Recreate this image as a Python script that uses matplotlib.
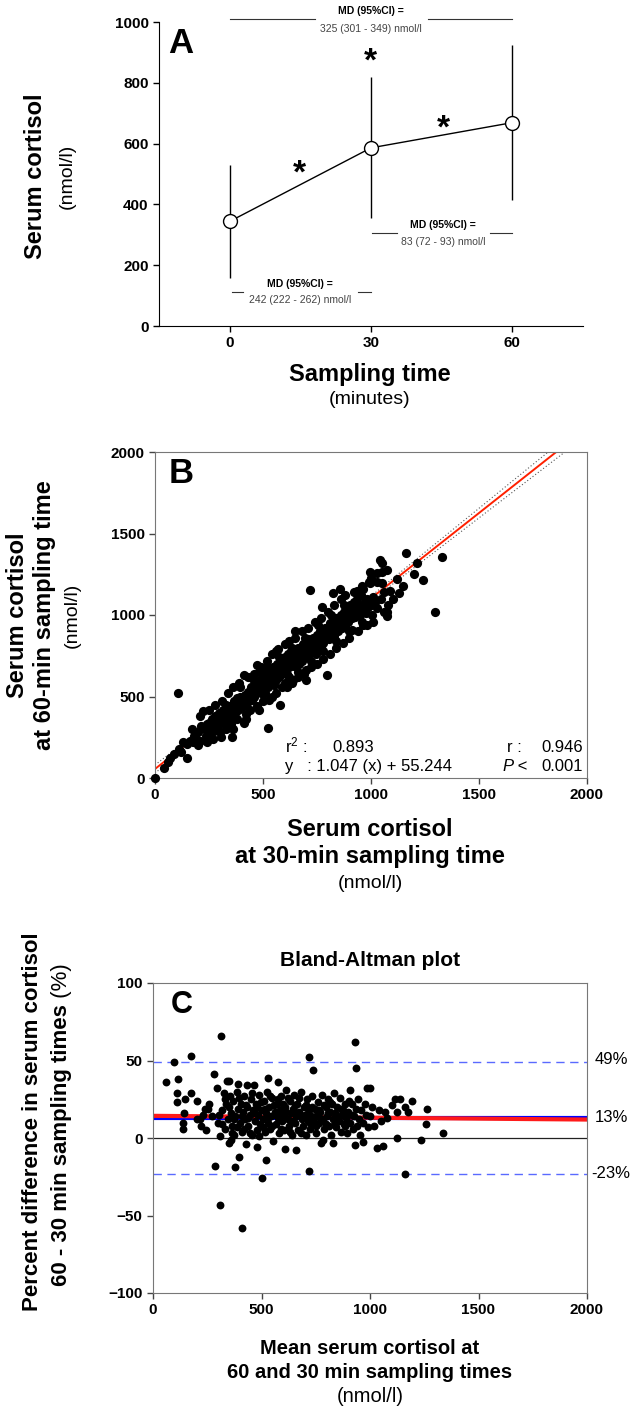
import matplotlib
matplotlib.use('Agg')
import matplotlib.pyplot as plt
import numpy as np

plt.rcParams['font.family'] = ['Liberation Sans', 'DejaVu Sans']
plt.rcParams['mathtext.fontset'] = 'custom'
plt.rcParams['mathtext.rm'] = 'Liberation Sans'
plt.rcParams['mathtext.it'] = 'Liberation Sans:italic'
plt.rcParams['mathtext.bf'] = 'Liberation Sans:bold'

# ---------------- data ----------------
# Panel A
times = [0, 30, 60]
time_labels = ['0', '30', '60']
cortisol_mean = [344, 586, 669]
cortisol_sd = [185, 232, 255]
md_texts = ["325 (301 - 349) nmol/l", "83 (72 - 93) nmol/l", "242 (222 - 262) nmol/l"]

# Panel B (30-min value, 60-min value)
panel_b_points = [
    (0, 0), (40, 60), (60, 100), (70, 120), (90, 150), (105, 520), (110, 175), (120, 160), (130, 220),
    (150, 210), (160, 230), (175, 220), (180, 260), (190, 240), (200, 280),
    (210, 230), (215, 320), (222, 411), (230, 300), (235, 260), (240, 330), (245, 290), (250, 340),
    (255, 252), (260, 310), (265, 360), (270, 330), (275, 290), (280, 380), (285, 340), (290, 320),
    (295, 400), (300, 350),
    (305, 252), (310, 380), (315, 420), (320, 340), (325, 400), (330, 450), (335, 370), (340, 410),
    (345, 440), (350, 380), (355, 252), (360, 430), (365, 470), (370, 400), (375, 450), (380, 490),
    (385, 420), (390, 460), (395, 500), (400, 430),
    (405, 480), (410, 337), (412, 632), (415, 510), (420, 450), (425, 490), (430, 530), (435, 470),
    (440, 520), (445, 560), (450, 480), (455, 540), (460, 500), (465, 580), (470, 693), (475, 530),
    (480, 560), (485, 600), (490, 520), (495, 570), (500, 610), (500, 540),
    (505, 580), (510, 520), (515, 640), (520, 600), (523, 307), (525, 560), (530, 650), (535, 590),
    (540, 620), (545, 680), (550, 570), (555, 640), (560, 600), (565, 700), (570, 650), (575, 620),
    (579, 448), (580, 680), (585, 720), (590, 640), (595, 690), (600, 660), (600, 740),
    (605, 700), (610, 640), (615, 760), (620, 680), (625, 720), (630, 780), (634, 583), (635, 700),
    (640, 740), (645, 690), (650, 760), (655, 720), (660, 800), (665, 700), (670, 750), (675, 780),
    (680, 720), (685, 820), (690, 638), (690, 760), (695, 800), (700, 740),
    (705, 790), (710, 850), (715, 760), (718, 1153), (720, 820), (725, 780), (730, 860), (735, 800),
    (740, 840), (745, 760), (750, 880), (755, 820), (760, 850), (765, 900), (770, 800), (773, 1049),
    (775, 860), (780, 830), (785, 920), (790, 870), (796, 632), (800, 900),
    (805, 850), (810, 950), (815, 880), (820, 920), (824, 1135), (825, 960), (830, 870), (835, 930),
    (840, 980), (845, 900), (850, 950), (857, 1159), (860, 1000), (865, 920), (870, 970), (875, 1020),
    (880, 940), (885, 990), (890, 1040), (895, 960), (900, 1010),
    (905, 1060), (910, 980), (912, 908), (915, 1030), (920, 1080), (925, 990), (930, 1050), (935, 1100),
    (940, 1010), (945, 1060), (950, 1000), (955, 1120), (960, 1040), (963, 939), (963, 1159), (970, 1080),
    (975, 1010), (980, 1100), (985, 1050), (990, 1200), (995, 1264), (995, 1196), (1000, 1060),
    (1005, 1000), (1010, 1110), (1020, 1080), (1028, 1202), (1030, 1040), (1042, 1337), (1045, 1100),
    (1051, 1319), (1051, 1264), (1051, 1196), (1060, 1140), (1074, 1276), (1074, 1018), (1074, 994),
    (1080, 1060), (1090, 1150),
    (1120, 1220), (1130, 1135), (1150, 1180), (1162, 1380), (1200, 1250), (1213, 1319), (1241, 1215),
    (1296, 1018), (1329, 1356),
    (150, 120), (170, 300), (200, 200), (210, 380), (240, 220), (250, 420), (270, 240), (280, 450),
    (300, 280), (310, 470), (330, 300), (340, 520), (350, 330), (360, 560), (380, 360), (390, 580),
    (420, 390), (430, 620), (440, 420), (460, 640), (470, 440), (490, 680), (500, 470), (520, 720),
    (530, 480), (540, 760), (560, 520), (570, 790), (590, 560), (600, 820), (610, 560), (620, 840),
    (640, 600), (650, 860), (660, 620), (680, 900), (700, 660), (710, 920), (720, 680), (740, 960),
    (750, 700), (770, 980), (780, 730), (800, 1020), (810, 760), (830, 1060), (840, 800), (860, 1100),
    (870, 830), (880, 1120), (900, 860), (920, 1140), (940, 900), (960, 1180), (980, 940), (1000, 1230),
    (1010, 960), (1030, 1260), (1060, 1020), (1100, 1100), (650, 900), (560, 780), (480, 650),
    (620, 620), (700, 600), (395, 560), (455, 610), (515, 680), (575, 740), (635, 800), (695, 860),
    (755, 940), (815, 1000), (875, 1060), (935, 1150), (360, 300), (420, 360), (480, 420), (540, 500),
    (600, 580), (660, 650), (720, 720), (780, 780), (840, 840), (900, 900), (960, 960),
]
reg_slope = 1.047
reg_intercept = 55.244
ci_x = [0, 650, 2000]
ci_upper = [80, 738, 2194]
ci_lower = [30, 732, 2104]

# Panel C (mean of 60 and 30 min, percent difference)
panel_c_points = [
    (60, 36), (97, 49), (110, 29), (110, 23), (115, 38), (138, 6), (138, 10), (143, 16), (147, 25),
    (175, 53), (175, 29), (203, 24), (203, 12), (217, 12), (240, 19), (253, 19),
    (220, 8), (230, 15), (245, 5), (260, 22), (270, 14), (281, 41), (286, -18), (295, 32), (300, 10),
    (309, 1), (309, -43), (313, 66), (320, 18), (327, 29), (330, 6), (335, 22), (341, 37), (345, 12),
    (350, 37), (350, -3),
    (355, 27), (359, -1), (360, 16), (365, 8), (370, 24), (375, 2), (378, -19), (380, 14), (385, 30),
    (390, 19), (392, 35), (396, -12), (400, 10), (405, 22), (410, -58), (410, 4), (415, 17), (420, 27),
    (425, 12), (430, -4), (433, 34), (435, 20), (440, 8), (445, 15), (450, 25), (455, 2), (460, 18),
    (465, 34), (470, 11), (475, 22), (479, -6), (480, 5), (485, 15), (490, 28), (495, 9), (500, 18),
    (502, -26), (505, 12), (510, 24), (515, 4), (520, 16), (521, -14), (525, 30), (530, 39), (530, 10),
    (535, 20), (540, 6), (545, 14), (550, 26), (555, -2), (560, 17), (565, 9), (570, 22), (576, 36),
    (575, 13), (580, 3), (585, 18), (590, 27), (595, 11), (600, 15), (605, 5), (608, -7), (610, 20),
    (615, 31), (620, 12), (625, 8), (630, 24), (635, 16), (640, 2), (645, 19), (650, 28), (655, 10),
    (659, -8), (660, 14), (665, 22), (670, 5), (675, 17), (680, 30), (685, 12), (690, 8), (695, 20),
    (700, 15), (705, 2), (710, 25), (715, 11), (719, 52), (719, -21), (720, 18), (725, 6), (730, 14),
    (737, 44), (735, 27), (740, 9), (745, 19), (750, 3), (755, 15), (760, 23), (765, 10), (770, 17),
    (775, -3), (780, 28), (783, -1), (785, 12), (790, 6), (795, 20), (800, 14), (805, 25), (810, 8),
    (815, 17), (820, 2), (825, 22), (829, -3), (830, 12), (835, 29), (840, 16), (845, 7), (850, 20),
    (855, 11), (860, 26), (865, 4), (870, 15), (875, 18), (880, 9), (885, 22), (890, 13), (895, 3),
    (900, 17), (908, 31), (910, 10), (915, 22), (920, 6), (925, 14), (931, 62), (931, -4.5), (935, 45),
    (935, 19), (940, 8), (945, 25), (950, 12), (955, 2), (960, 18), (968, -2.6), (970, 10), (975, 22),
    (980, 15), (986, 32), (990, 7), (1000, 32), (1000, 14), (1010, 20), (1020, 8), (1032, -6.5),
    (1040, 18), (1050, 11), (1060, -5), (1069, 17), (1080, 13), (1100, 21), (1115, 25), (1124, 17),
    (1124, 0), (1138, 25), (1161, 20), (1161, -23), (1175, 17), (1193, 24), (1235, -1), (1258, 9),
    (1263, 19), (1336, 3),
    (305, 15), (318, 9), (332, 25), (348, 20), (362, 3), (372, 12), (388, 7), (398, 26), (408, 14),
    (418, 6), (428, 21), (438, 13), (448, 3), (458, 29), (468, 16), (478, 20), (488, 1), (498, 23),
    (508, 7), (518, 19), (528, 13), (538, 27), (548, 8), (558, 21), (568, 15), (578, 25), (588, 6),
    (598, 22), (603, 13), (613, 17), (623, 26), (633, 4), (643, 11), (653, 21), (663, 16), (673, 26),
    (683, 3), (693, 14), (703, 21), (713, 16), (723, 10), (733, 20), (743, 13), (753, 8), (763, 18),
    (773, 12), (787, 21), (797, 9), (807, 16), (817, 23), (837, 10), (847, 14), (867, 19), (887, 8),
    (902, 24), (918, 15),
]
ba_mean_bias = 13
ba_upper_loa = 49
ba_lower_loa = -23
ba_trend_x = [0, 2000]
ba_trend_y = [14.3, 11.9]
ba_labels = ['49%', '13%', '-23%']

# ---------------- layout helpers ----------------
W, H = 638, 1407
fig = plt.figure(figsize=(W / 100, H / 100), dpi=100)


def fx(px):
    return px / W


def fy(py):
    return 1 - py / H


def rect(l, t, r, b):
    return [l / W, 1 - b / H, (r - l) / W, (b - t) / H]


def bold_ticks(ax):
    for lbl in ax.get_xticklabels() + ax.get_yticklabels():
        lbl.set_fontweight('bold')
        lbl.set_fontsize(11)


# ---------------- Panel A ----------------
axA = fig.add_axes(rect(159, 22, 583, 326))
axA.errorbar(times, cortisol_mean, yerr=cortisol_sd, fmt='-o', color='black', lw=1,
             elinewidth=1, capsize=0, mfc='white', mec='black', ms=10, mew=1, zorder=3)
axA.set_xlim(-15, 75)
axA.set_ylim(0, 1000)
axA.spines['top'].set_visible(False)
axA.spines['right'].set_visible(False)
axA.set_xticks(times)
axA.set_xticklabels(time_labels)
axA.set_yticks(range(0, 1001, 200))
axA.tick_params(direction='out', length=4, width=1)
bold_ticks(axA)


def md(ax, xc, ymd, yline, yval, segs, value):
    ax.text(xc, ymd, "MD (95%CI) =", ha='center', va='center', fontsize=7.5,
            fontweight='bold', clip_on=False)
    for a, b in segs:
        ax.plot([a, b], [yline, yline], color='#333333', lw=0.8, clip_on=False)
    ax.text(xc, yval, value, ha='center', va='center', fontsize=7.5, color='#444444',
            clip_on=False)


md(axA, 30, 1036, 1010, 977, [(0, 18.2), (42.1, 60)], md_texts[0])
md(axA, 45.3, 332, 306, 276, [(30.3, 35.5), (55.2, 60)], md_texts[1])
md(axA, 15, 138, 112, 86, [(0.4, 2.9), (27.2, 29.9)], md_texts[2])

for sx, sy in [(29.8, 840), (45.3, 620), (14.9, 472)]:
    axA.text(sx, sy, '*', fontsize=24, fontweight='bold', ha='center', va='baseline')

fig.text(fx(181), fy(53), 'A', fontsize=25, fontweight='bold', ha='center', va='baseline')
fig.text(fx(36), fy(176), 'Serum cortisol', rotation=90, fontsize=17, fontweight='bold',
         ha='center', va='center')
fig.text(fx(67), fy(176), '(nmol/l)', rotation=90, fontsize=14, ha='center', va='center')
fig.text(fx(370), fy(375), 'Sampling time', fontsize=17, fontweight='bold', ha='center', va='center')
fig.text(fx(370), fy(400), '(minutes)', fontsize=14, ha='center', va='center')

# ---------------- Panel B ----------------
axB = fig.add_axes(rect(155, 452, 587, 778))
bx = [p[0] for p in panel_b_points]
by = [p[1] for p in panel_b_points]
xs = np.array([0, 2000])
axB.plot(xs, reg_slope * xs + reg_intercept, color='#ff2000', lw=1.4, zorder=2)
axB.plot(ci_x, ci_upper, color='#555555', lw=0.8, ls=(0, (1, 2)), zorder=2)
axB.plot(ci_x, ci_lower, color='#555555', lw=0.8, ls=(0, (1, 2)), zorder=2)
axB.scatter(bx, by, s=44, c='black', zorder=3, clip_on=False, linewidths=0)
axB.set_xlim(0, 2000)
axB.set_ylim(0, 2000)
axB.set_xticks(range(0, 2001, 500))
axB.set_yticks(range(0, 2001, 500))
for s in axB.spines.values():
    s.set_color('#777777')
axB.tick_params(direction='out', length=4, width=1, color='#444444')
bold_ticks(axB)

fig.text(fx(285), fy(752), r'r$^{2}$ :', ha='left', fontsize=12)
fig.text(fx(332), fy(752), '0.893', ha='left', fontsize=12)
fig.text(fx(285), fy(771), 'y   : 1.047 (x) + 55.244', ha='left', fontsize=12)
fig.text(fx(507), fy(752), 'r :', ha='left', fontsize=12)
fig.text(fx(583), fy(752), '0.946', ha='right', fontsize=12)
fig.text(fx(502), fy(771), 'P', ha='left', fontsize=12, style='italic')
fig.text(fx(513), fy(771), ' <', ha='left', fontsize=12)
fig.text(fx(583), fy(771), '0.001', ha='right', fontsize=12)

fig.text(fx(181), fy(483), 'B', fontsize=25, fontweight='bold', ha='center', va='baseline')
fig.text(fx(18), fy(615), 'Serum cortisol', rotation=90, fontsize=17, fontweight='bold',
         ha='center', va='center')
fig.text(fx(45), fy(615), 'at 60-min sampling time', rotation=90, fontsize=17, fontweight='bold',
         ha='center', va='center')
fig.text(fx(72), fy(615), '(nmol/l)', rotation=90, fontsize=14, ha='center', va='center')
fig.text(fx(370), fy(830), 'Serum cortisol', fontsize=17, fontweight='bold', ha='center', va='center')
fig.text(fx(370), fy(857), 'at 30-min sampling time', fontsize=17, fontweight='bold',
         ha='center', va='center')
fig.text(fx(370), fy(883), '(nmol/l)', fontsize=14, ha='center', va='center')

# ---------------- Panel C ----------------
axC = fig.add_axes(rect(153, 983, 587, 1293))
cx = [p[0] for p in panel_c_points]
cy = [p[1] for p in panel_c_points]
axC.axhline(0, color='#222222', lw=0.9, zorder=1)
axC.axhline(ba_upper_loa, color='#5a6aff', lw=1, ls=(0, (6, 4)), zorder=1)
axC.axhline(ba_lower_loa, color='#5a6aff', lw=1, ls=(0, (6, 4)), zorder=1)
axC.axhline(ba_mean_bias, color='#0000ff', lw=3, zorder=2)
axC.plot(ba_trend_x, ba_trend_y, color='#ff1a1a', lw=3, zorder=2, solid_capstyle='butt')
axC.scatter(cx, cy, s=32, c='black', zorder=3, linewidths=0)
axC.set_xlim(0, 2000)
axC.set_ylim(-100, 100)
axC.set_xticks(range(0, 2001, 500))
axC.set_yticks(range(-100, 101, 50))
for s in axC.spines.values():
    s.set_color('#777777')
axC.tick_params(direction='out', length=4, width=1, color='#444444')
bold_ticks(axC)

for lab, py in zip(ba_labels, [1060, 1117, 1173]):
    fig.text(fx(611), fy(py), lab, fontsize=12, ha='center', va='center')

fig.text(fx(370), fy(960), 'Bland-Altman plot', fontsize=15, fontweight='bold', ha='center', va='center')
fig.text(fx(182), fy(1013), 'C', fontsize=22, fontweight='bold', ha='center', va='baseline')

fig.text(fx(370), fy(1348), 'Mean serum cortisol at', fontsize=14.5, fontweight='bold', ha='center', va='center')
fig.text(fx(370), fy(1373), '60 and 30 min sampling times', fontsize=14.5, fontweight='bold',
         ha='center', va='center')
fig.text(fx(370), fy(1396), '(nmol/l)', fontsize=14.5, ha='center', va='center')

fig.text(fx(33), fy(1122), 'Percent difference in serum cortisol', rotation=90, fontsize=16,
         fontweight='bold', ha='center', va='center')

renderer = fig.canvas.get_renderer()
t_b = fig.text(0, 0, '60 - 30 min sampling times', rotation=90, fontsize=16, fontweight='bold',
               ha='center', va='bottom')
t_p = fig.text(0, 0, ' (%)', rotation=90, fontsize=16, ha='center', va='bottom')
hb = t_b.get_window_extent(renderer).height
hp = t_p.get_window_extent(renderer).height
total = hb + hp
center_px = 1407 - 1125
start = center_px - total / 2
t_b.set_position((fx(62), start / H))
t_p.set_position((fx(62), (start + hb) / H))

fig.savefig('out.png', dpi=100)
